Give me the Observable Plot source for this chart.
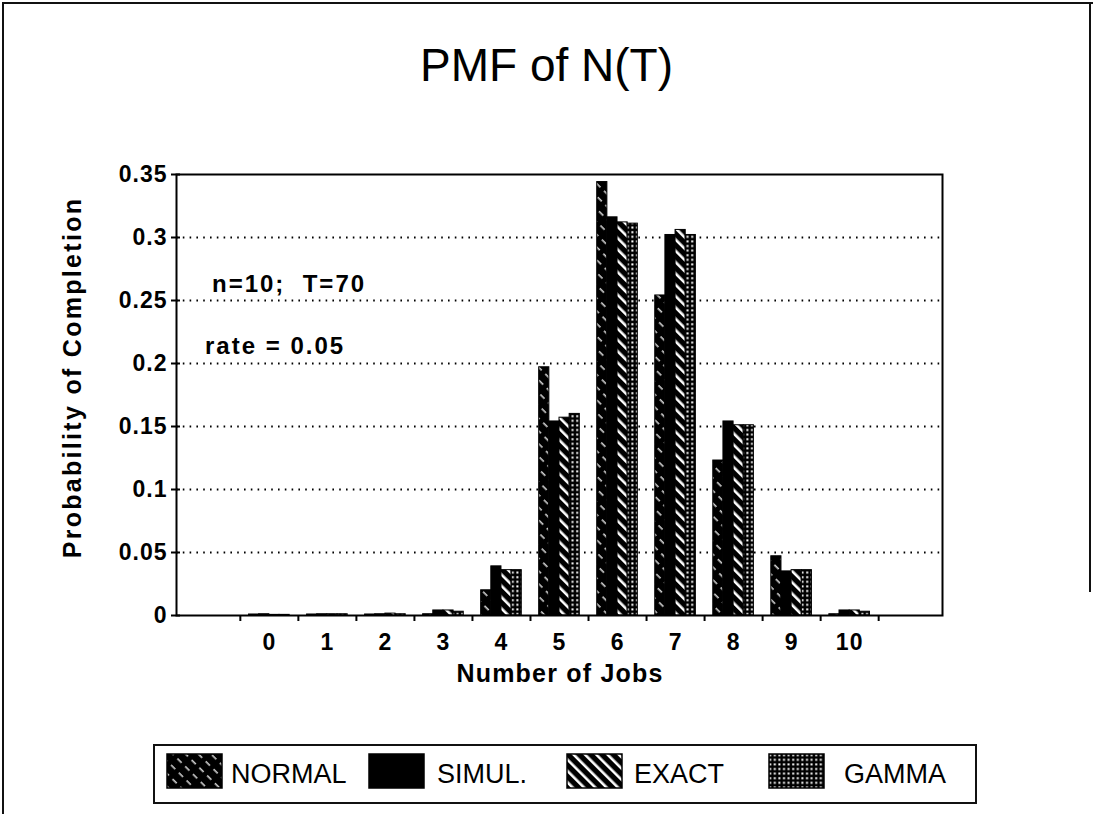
<!DOCTYPE html>
<html><head><meta charset="utf-8">
<script src="https://cdn.jsdelivr.net/npm/d3@7"></script>
<script src="https://cdn.jsdelivr.net/npm/@observablehq/plot@0.6"></script>
<style>
body{margin:0;background:#fff;font-family:"Liberation Sans",Arial,Helvetica,sans-serif;}
#page{position:relative;width:1093px;height:814px;overflow:hidden;background:#fff;}
.abs{position:absolute;white-space:pre;color:#000;line-height:1;}
</style></head><body>
<div id="page">
  <div class="abs" style="left:2px;top:2px;width:1089px;height:812px;border-left:2px solid #111;border-top:2px solid #111;"></div>
  <div class="abs" style="left:1089px;top:2px;height:590px;border-left:2px solid #111;"></div>
  <svg width="0" height="0" style="position:absolute;left:0;top:0">
    <defs>
      <pattern id="pNormal" patternUnits="userSpaceOnUse" width="9" height="11" patternTransform="rotate(-45)">
        <rect width="9" height="11" fill="#000"/>
        <rect x="3.5" y="1" width="1.3" height="6" fill="#fff"/>
      </pattern>
      <pattern id="pExact" patternUnits="userSpaceOnUse" width="8" height="8" patternTransform="rotate(-45)">
        <rect width="8" height="8" fill="#000"/>
        <rect x="3" y="0" width="2.6" height="8" fill="#fff"/>
      </pattern>
      <pattern id="pGamma" patternUnits="userSpaceOnUse" width="4.6" height="4.6">
        <rect width="4.6" height="4.6" fill="#000"/>
        <rect x="1.2" y="1.2" width="2" height="2" fill="#fff"/>
      </pattern>
    </defs>
  </svg>
  <div id="chart" class="abs" style="left:0;top:0"></div>
  <div class="abs" style="left:0;width:1093px;top:42px;text-align:center;font-size:46px;">PMF of N(T)</div>
  <div class="abs" style="left:-128px;width:400px;top:365px;text-align:center;font-size:25px;font-weight:bold;letter-spacing:2.3px;transform:rotate(-90deg);transform-origin:200px 12.5px;">Probability of Completion</div>
  <div class="abs" style="left:360px;width:400px;top:661px;text-align:center;font-size:25px;font-weight:bold;letter-spacing:1.2px;">Number of Jobs</div>
  <div class="abs" style="left:212px;top:272px;font-size:24px;font-weight:bold;letter-spacing:2px;">n=10;  T=70</div>
  <div class="abs" style="left:205px;top:334px;font-size:24px;font-weight:bold;letter-spacing:2px;">rate = 0.05</div>
  <div class="abs" id="legend" style="left:153px;top:744px;width:820px;height:56px;border:2px solid #111;"></div>
</div>
<script>
const jobs = [0, 1, 2, 3, 4, 5, 6, 7, 8, 9, 10];
const xTickLabels = ["0", "1", "2", "3", "4", "5", "6", "7", "8", "9", "10"];
const seriesNames = ["NORMAL", "SIMUL.", "EXACT", "GAMMA"];
const normal = [0.0008, 0.0008, 0.0008, 0.001, 0.020, 0.197, 0.344, 0.254, 0.123, 0.047, 0.001];
const simul  = [0.001, 0.001, 0.001, 0.004, 0.039, 0.154, 0.316, 0.302, 0.154, 0.035, 0.004];
const exact  = [0.0005, 0.001, 0.0015, 0.004, 0.036, 0.157, 0.312, 0.306, 0.151, 0.036, 0.004];
const gamma  = [0.0005, 0.001, 0.001, 0.003, 0.036, 0.160, 0.311, 0.302, 0.151, 0.036, 0.003];
const yTicks = [0, 0.05, 0.1, 0.15, 0.2, 0.25, 0.3, 0.35];
const yTickLabels = ["0", "0.05", "0.1", "0.15", "0.2", "0.25", "0.3", "0.35"];
const fills = ["url(#pNormal)", "#000", "url(#pExact)", "url(#pGamma)"];

const allSeries = [normal, simul, exact, gamma];
const tables = allSeries.map((vals, i) => vals.map((v, k) => ({job: jobs[k], series: seriesNames[i], i, value: v})));

const groupW = 0.70, barW = groupW / 4;

const barMarks = tables.map((t, i) => Plot.rectY(t, {
  x1: d => d.job - groupW / 2 + d.i * barW,
  x2: d => d.job - groupW / 2 + (d.i + 1) * barW,
  y1: 0,
  y2: "value",
  fill: fills[i],
  stroke: "#000",
  strokeWidth: 1
}));

const chart = Plot.plot({
  width: 1093,
  height: 720,
  marginTop: 174,
  marginBottom: 105,
  marginLeft: 176,
  marginRight: 151,
  x: {domain: [-1.6, 11.6]},
  y: {domain: [0, 0.35]},
  style: {fontFamily: "'Liberation Sans', Arial, sans-serif", fontSize: "23px", fontWeight: "bold", letterSpacing: "1px", background: "transparent", color: "#000", overflow: "visible"},
  marks: [
    Plot.ruleY(yTicks.slice(1, -1), {stroke: "#000", strokeWidth: 2, strokeDasharray: "1.6 5.2"}),
    ...barMarks,
    Plot.frame({stroke: "#000", strokeWidth: 2}),
    Plot.axisY({ticks: yTicks, tickSize: 5, tickPadding: 4, strokeWidth: 2, tickFormat: d => yTickLabels[yTicks.indexOf(d)], label: null}),
    Plot.axisY({ticks: yTicks, tickSize: -4, strokeWidth: 2, tickFormat: () => "", label: null}),
    Plot.axisX({ticks: jobs.map(k => k - 0.5).concat([jobs[jobs.length - 1] + 0.5]), tickSize: 6, strokeWidth: 2, tickFormat: () => "", label: null}),
    Plot.axisX({ticks: jobs, tickSize: 0, tickPadding: 18, tickFormat: d => xTickLabels[jobs.indexOf(d)], label: null})
  ]
});
document.getElementById("chart").appendChild(chart);

// legend
const legend = document.getElementById("legend");
const swatchLeft = [11, 213, 411, 613];
const textLeft = [76, 282, 479, 689];
seriesNames.forEach((name, i) => {
  const sw = document.createElementNS("http://www.w3.org/2000/svg", "svg");
  sw.setAttribute("width", 57);
  sw.setAttribute("height", 36);
  sw.style.position = "absolute";
  sw.style.left = swatchLeft[i] + "px";
  sw.style.top = "7px";
  const r = document.createElementNS("http://www.w3.org/2000/svg", "rect");
  r.setAttribute("x", 1); r.setAttribute("y", 1);
  r.setAttribute("width", 55); r.setAttribute("height", 34);
  r.setAttribute("fill", fills[i]);
  r.setAttribute("stroke", "#000");
  r.setAttribute("stroke-width", 1.5);
  sw.appendChild(r);
  legend.appendChild(sw);
  const t = document.createElement("div");
  t.className = "abs";
  t.style.left = textLeft[i] + "px";
  t.style.top = "15px";
  t.style.fontSize = "27px";
  t.textContent = name;
  legend.appendChild(t);
});
</script>
</body></html>
